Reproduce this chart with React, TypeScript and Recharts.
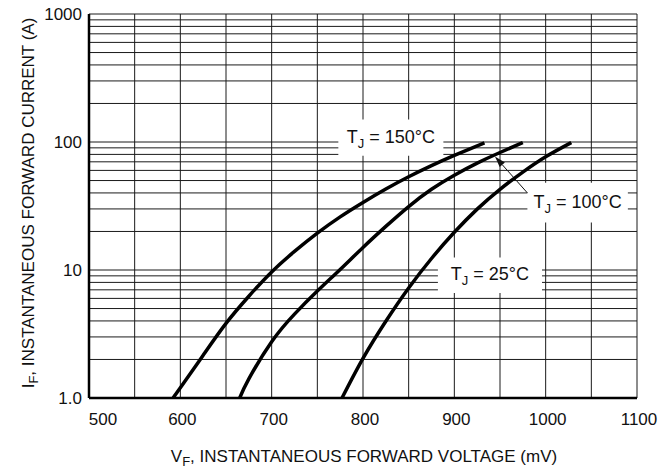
import React from 'react';
import { LineChart, Line, XAxis, YAxis, CartesianGrid, ReferenceArea, ReferenceLine } from 'recharts';

// forward voltage (mV) / forward current (A)
const vf25 = [777, 800, 825, 850, 875, 900, 925, 950, 975, 1000, 1028];
const if25 = [1.0, 2.04, 3.98, 7.24, 12.3, 19.7, 29.9, 42.7, 58.2, 76.7, 99];

const vf100 = [665, 675, 700, 725, 750, 775, 800, 825, 850, 875, 900, 925, 950, 975];
const if100 = [1.0, 1.41, 2.75, 4.52, 6.84, 10.1, 15.0, 21.9, 31.3, 42.7, 55.0, 68.4, 82.8, 98.9];

const vf150 = [592, 600, 625, 650, 675, 700, 725, 750, 775, 800, 825, 850, 875, 900, 933];
const if150 = [1.0, 1.2, 2.16, 3.83, 6.24, 9.66, 13.96, 19.4, 26.0, 33.7, 42.9, 53.5, 65.3, 78.5, 98.4];

const xTicks = [500, 550, 600, 650, 700, 750, 800, 850, 900, 950, 1000, 1050, 1100];
const xLabels = [500, 600, 700, 800, 900, 1000, 1100];
const yTicks = [1, 2, 3, 4, 5, 6, 7, 8, 9, 10, 20, 30, 40, 50, 60, 70, 80, 90, 100, 200, 300, 400, 500, 600, 700, 800, 900, 1000];
const yLabels: Record<number, string> = { 1: '1.0', 10: '10', 100: '100', 1000: '1000' };

const toRows = (v: number[], i: number[]) => v.map((x, k) => ({ v: x, i: i[k] }));
const s25 = toRows(vf25, if25);
const s100 = toRows(vf100, if100);
const s150 = toRows(vf150, if150);

const FONT = '"Liberation Sans", Arial, sans-serif';

const XTick = (props: any) => {
  const { x, y, payload } = props;
  if (!xLabels.includes(payload.value)) return null;
  const shift = payload.value === 500 ? 14 : 2;
  return (
    <text x={x + shift} y={y} textAnchor="middle" fontSize={17} fontFamily={FONT} fill="#111">
      {payload.value}
    </text>
  );
};

const YTick = (props: any) => {
  const { x, y, payload } = props;
  const lab = yLabels[payload.value];
  if (!lab) return null;
  return (
    <text x={x} y={y} dy={6} textAnchor="end" fontSize={17} fontFamily={FONT} fill="#111">
      {lab}
    </text>
  );
};

const tjLabel = (temp: string) => (props: any) => {
  const { x, y, width, height } = props.viewBox;
  return (
    <text x={x + width / 2} y={y + height / 2 + 5} textAnchor="middle" fontSize={18} fontFamily={FONT} fill="#111">
      T<tspan fontSize={13} dy={5}>J</tspan><tspan dy={-5}>{' = ' + temp + '°C'}</tspan>
    </text>
  );
};

const Arrow = (props: any) => {
  const { x1, y1, x2, y2 } = props;
  const ang = Math.atan2(y2 - y1, x2 - x1);
  const len = 11;
  const w = 3.5;
  const bx = x2 - len * Math.cos(ang);
  const by = y2 - len * Math.sin(ang);
  const px = -Math.sin(ang) * w;
  const py = Math.cos(ang) * w;
  return (
    <g>
      <line x1={x1} y1={y1} x2={bx} y2={by} stroke="#111" strokeWidth={1} />
      <polygon points={`${x2},${y2} ${bx + px},${by + py} ${bx - px},${by - py}`} fill="#111" />
    </g>
  );
};

const YTitle = () => {
  const cx = 34;
  const cy = 203;
  return (
    <text x={cx} y={cy} transform={`rotate(-90, ${cx}, ${cy})`} textAnchor="middle" fontSize={17} fontFamily={FONT} fill="#111">
      I<tspan fontSize={13} dy={4}>F</tspan><tspan dy={-4}>, INSTANTANEOUS FORWARD CURRENT (A)</tspan>
    </text>
  );
};

const XTitle = (props: any) => {
  const { x, width } = props.viewBox;
  return (
    <text x={x + width / 2 + 1} y={462} textAnchor="middle" fontSize={17} fontFamily={FONT} fill="#111">
      V<tspan fontSize={13} dy={4}>F</tspan><tspan dy={-4}>, INSTANTANEOUS FORWARD VOLTAGE (mV)</tspan>
    </text>
  );
};

export default function App() {
  return (
    <div style={{ position: 'absolute', left: 0, top: 0, background: '#fff' }}>
      <LineChart width={659} height={470} margin={{ top: 14, right: 22, bottom: 42, left: 9 }}>
        <CartesianGrid stroke="#1a1a1a" strokeWidth={1} />
        <XAxis
          dataKey="v"
          type="number"
          domain={[500, 1100]}
          ticks={xTicks}
          interval={0}
          allowDataOverflow
          height={30}
          tickSize={0}
          tickMargin={27}
          tick={<XTick />}
          axisLine={{ stroke: '#000', strokeWidth: 2.5 }}
          label={<XTitle />}
        />
        <YAxis
          dataKey="i"
          type="number"
          scale="log"
          domain={[1, 1000]}
          ticks={yTicks}
          interval={0}
          allowDataOverflow
          width={80}
          tickSize={0}
          tickMargin={7}
          tick={<YTick />}
          axisLine={{ stroke: '#000', strokeWidth: 2.5 }}
          label={<YTitle />}
        />
        <ReferenceArea x1={773} x2={888} y1={78} y2={150} fill="#fff" fillOpacity={1} stroke="none" label={{ content: tjLabel('150') }} />
        <ReferenceArea x1={980} x2={1090} y1={23.5} y2={48} fill="#fff" fillOpacity={1} stroke="none" label={{ content: tjLabel('100') }} />
        <ReferenceArea x1={882} x2={996} y1={6.6} y2={12.5} fill="#fff" fillOpacity={1} stroke="none" label={{ content: tjLabel('25') }} />
        <ReferenceLine segment={[{ x: 980, y: 40 }, { x: 944.5, y: 77 }]} shape={<Arrow />} ifOverflow="visible" />
        <Line data={s150} dataKey="i" type="natural" dot={false} stroke="#000" strokeWidth={3.5} isAnimationActive={false} />
        <Line data={s100} dataKey="i" type="natural" dot={false} stroke="#000" strokeWidth={3.5} isAnimationActive={false} />
        <Line data={s25} dataKey="i" type="natural" dot={false} stroke="#000" strokeWidth={3.5} isAnimationActive={false} />
      </LineChart>
    </div>
  );
}
